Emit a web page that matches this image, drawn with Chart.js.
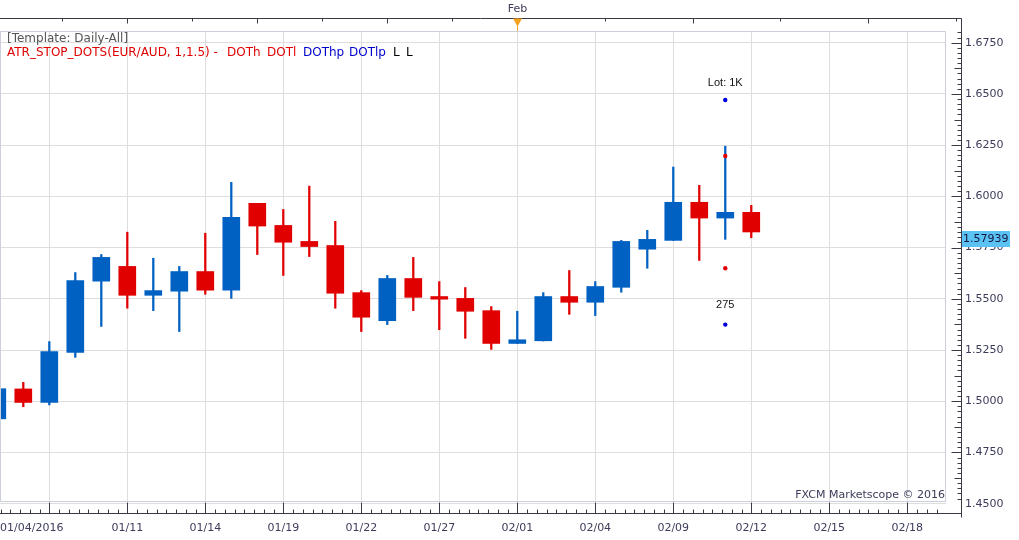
<!DOCTYPE html>
<html>
<head>
<meta charset="utf-8">
<script src="https://cdn.jsdelivr.net/npm/chart.js@4.4.1/dist/chart.umd.min.js"></script>
<style>
  html, body { margin: 0; padding: 0; background: #fff; }
  #wrap { width: 1019px; height: 540px; position: relative; }
</style>
</head>
<body>
<div id="wrap"><canvas id="priceChart"></canvas></div>
<script>
// ============================================
// EUR/AUD daily candles - Marketscope style
// ============================================

// candle slots (bar index on the x axis)
const barIndex = [0, 1, 2, 3, 4, 5, 6, 7, 8, 9, 10, 11, 12, 13, 14,
                  15, 16, 17, 18, 19, 20, 21, 22, 23, 24, 25, 26, 27, 28, 29];

const opens  = [1.4914, 1.5060, 1.4994, 1.5238, 1.5586, 1.5658, 1.5517, 1.5537, 1.5633, 1.5542,
                1.5966, 1.5858, 1.5780, 1.5760, 1.5530, 1.5393, 1.5599, 1.5511, 1.5502, 1.5442,
                1.5282, 1.5295, 1.5511, 1.5483, 1.5556, 1.5742, 1.5785, 1.5971, 1.5894, 1.5922];
const highs  = [1.5070, 1.5092, 1.5291, 1.5628, 1.5716, 1.5825, 1.5698, 1.5658, 1.5820, 1.6068,
                1.5966, 1.5936, 1.6050, 1.5878, 1.5540, 1.5614, 1.5702, 1.5584, 1.5555, 1.5462,
                1.5439, 1.5530, 1.5638, 1.5584, 1.5785, 1.5834, 1.6143, 1.6054, 1.6245, 1.5956];
const lows   = [1.4905, 1.4973, 1.4982, 1.5214, 1.5365, 1.5454, 1.5442, 1.5340, 1.5522, 1.5502,
                1.5716, 1.5614, 1.5706, 1.5454, 1.5340, 1.5374, 1.5442, 1.5349, 1.5307, 1.5253,
                1.5282, 1.5294, 1.5424, 1.5418, 1.5532, 1.5649, 1.5785, 1.5687, 1.5790, 1.5798];
const closes = [1.5061, 1.4994, 1.5242, 1.5589, 1.5702, 1.5517, 1.5540, 1.5633, 1.5542, 1.5897,
                1.5855, 1.5776, 1.5755, 1.5527, 1.5410, 1.5599, 1.5507, 1.5498, 1.5439, 1.5282,
                1.5300, 1.5511, 1.5483, 1.5560, 1.5780, 1.5790, 1.5971, 1.5894, 1.5922, 1.5826];

// ATR stop dots (all on the 02/11 candle)
const dotBar = 28;
const dotHigh = [1.6197];      // DOTh  (red)
const dotLow = [1.5649];       // DOTl  (red)
const dotHighP = [1.6470];     // DOThp (blue)
const dotLowP = [1.5374];      // DOTlp (blue)
const lotLabel = 'Lot: 1K';
const countLabel = '275';

// axes
const xTickAt = [2, 5, 8, 11, 14, 17, 20, 23, 26, 29, 32, 35];
const xTickLabels = ['01/04/2016', '01/11', '01/14', '01/19', '01/22', '01/27',
                     '02/01', '02/04', '02/09', '02/12', '02/15', '02/18'];
const topTickAt = [2.5, 5, 7.5, 10, 12.5, 15, 17.5, 20, 23.37, 26.75, 30.12, 33.5, 36.86];
const monthLabel = 'Feb';
const monthAt = 20;
const yTicks = [1.45, 1.475, 1.5, 1.525, 1.55, 1.575, 1.6, 1.625, 1.65, 1.675];
const lastPrice = 1.57939;

const UP = '#0061c2';
const DOWN = '#e00000';
const AXIS_TEXT = '#3c3c5a';
const GRID = '#dedede';

Chart.defaults.font.family = "'DejaVu Sans', Verdana, sans-serif";
Chart.defaults.font.size = 11;

const candleColors = barIndex.map((_, i) => closes[i] >= opens[i] ? UP : DOWN);
const wickData = barIndex.map((b, i) => ({ x: b, y: [lows[i], highs[i]] }));
const bodyData = barIndex.map((b, i) => ({ x: b, y: [opens[i], closes[i]] }));

// frame, axis lines, small ticks and the texts around the plot
const marketscopeFrame = {
    id: 'marketscopeFrame',
    beforeDraw(chart) {
        const ctx = chart.ctx;
        ctx.save();
        ctx.fillStyle = '#fff';
        ctx.fillRect(0, 0, chart.width, chart.height);
        ctx.restore();
    },
    afterDraw(chart) {
        const { ctx, chartArea: a, scales: { x, y } } = chart;
        const axR = Math.round(a.right) + 15.5;
        const axB = Math.round(a.bottom) + 12.5;
        const axT = 18.5;

        ctx.save();
        ctx.lineWidth = 1;

        // plot border
        ctx.strokeStyle = '#cbd0dc';
        ctx.strokeRect(a.left + 0.5, Math.round(a.top) + 0.5, a.right - a.left - 1, a.bottom - a.top);

        // axis lines
        ctx.strokeStyle = '#3a3a44';
        ctx.beginPath();
        ctx.moveTo(0, axT); ctx.lineTo(axR, axT);
        ctx.moveTo(0, axB); ctx.lineTo(axR, axB);
        ctx.moveTo(axR, axT); ctx.lineTo(axR, axB + 4);
        ctx.stroke();

        // bottom ticks
        const step = 3 / 8;
        const first = xTickAt[0] + Math.ceil((x.min - xTickAt[0]) / step) * step;
        ctx.beginPath();
        for (let v = first; v <= x.max; v += step) {
            const k = Math.round((v - xTickAt[0]) / step);
            const px = Math.round(x.getPixelForValue(v)) + 0.5;
            const len = (k % 8 === 0) ? 11 : 4;
            ctx.moveTo(px, axB); ctx.lineTo(px, axB - len);
        }
        // right ticks
        const yStep = 0.0025;
        for (let k = Math.ceil(y.min / yStep); k * yStep <= y.max + 1e-9; k++) {
            const py = Math.round(y.getPixelForValue(k * yStep)) + 0.5;
            const len = (k % 10 === 0) ? 10 : (k % 5 === 0 ? 7 : 4);
            ctx.moveTo(axR, py); ctx.lineTo(axR - len, py);
        }
        // top ticks
        topTickAt.forEach((v, i) => {
            const px = Math.round(x.getPixelForValue(v)) + 0.5;
            ctx.moveTo(px, axT); ctx.lineTo(px, axT + (i % 2 === 0 ? 3 : 5));
        });
        ctx.stroke();

        // month marker
        const mx = Math.round(x.getPixelForValue(monthAt)) + 0.5;
        ctx.fillStyle = AXIS_TEXT;
        ctx.font = "11px 'DejaVu Sans'";
        ctx.textAlign = 'center';
        ctx.textBaseline = 'middle';
        ctx.fillText(monthLabel, mx, 9);
        ctx.fillStyle = '#f4a21c';
        ctx.strokeStyle = '#f4a21c';
        ctx.beginPath();
        ctx.moveTo(mx - 4.5, axT); ctx.lineTo(mx + 4.5, axT); ctx.lineTo(mx, axT + 8);
        ctx.closePath(); ctx.fill();
        ctx.beginPath();
        ctx.moveTo(mx, axT); ctx.lineTo(mx, a.top);
        ctx.stroke();

        // first date label sits flush left
        ctx.fillStyle = AXIS_TEXT;
        ctx.textAlign = 'left';
        ctx.fillText(xTickLabels[0], a.left, axB + 14.5);

        // current price box
        const yp = Math.round(y.getPixelForValue(lastPrice));
        ctx.fillStyle = '#5ac3f3';
        ctx.fillRect(axR + 0.5, yp - 8, 48, 16);
        ctx.fillStyle = '#14143c';
        ctx.fillText(lastPrice.toFixed(5), axR + 1.5, yp + 0.5);

        // template / indicator legend
        ctx.font = "12px 'DejaVu Sans'";
        ctx.fillStyle = '#555555';
        ctx.fillText('[Template: Daily-All]', 7, 38.5);
        const legendParts = [
            ['ATR_STOP_DOTS(EUR/AUD, 1,1.5) -', DOWN, 7],
            ['DOTh', DOWN, 227],
            ['DOTl', DOWN, 267],
            ['DOThp', '#0000cc', 303],
            ['DOTlp', '#0000cc', 349],
            ['L', '#000000', 393],
            ['L', '#000000', 406]
        ];
        legendParts.forEach(([t, c, lx]) => {
            ctx.fillStyle = c;
            ctx.fillText(t, lx, 52.5);
        });

        // copyright
        ctx.font = "11px 'DejaVu Sans'";
        ctx.fillStyle = AXIS_TEXT;
        ctx.textAlign = 'right';
        ctx.fillText('FXCM Marketscope \u00A9 2016', a.right - 1, a.bottom - 6);

        // dot annotations
        const top = chart.getDatasetMeta(4).data[0];
        const bottom = chart.getDatasetMeta(5).data[0];
        ctx.fillStyle = '#111111';
        ctx.font = "11px 'Liberation Sans', Arial, sans-serif";
        ctx.textAlign = 'center';
        ctx.fillText(lotLabel, top.x, top.y - 17);
        ctx.fillText(countLabel, bottom.x, bottom.y - 20);

        ctx.restore();
    }
};

const dotSet = (values, color) => ({
    type: 'scatter',
    data: values.map(v => ({ x: dotBar, y: v })),
    backgroundColor: color,
    borderWidth: 0,
    pointRadius: 2.2,
    pointHoverRadius: 2.2,
    order: -1
});

new Chart(document.getElementById('priceChart'), {
    type: 'bar',
    data: {
        datasets: [
            {
                label: 'body',
                data: bodyData,
                backgroundColor: candleColors,
                borderWidth: 0,
                barThickness: 17,
                grouped: false,
                order: 0
            },
            {
                label: 'wick',
                data: wickData,
                backgroundColor: candleColors,
                borderWidth: 0,
                barThickness: 1.6,
                grouped: false,
                order: 1
            },
            dotSet(dotHigh, DOWN),
            dotSet(dotLow, DOWN),
            dotSet(dotHighP, '#0000e0'),
            dotSet(dotLowP, '#0000e0')
        ]
    },
    options: {
        responsive: true,
        maintainAspectRatio: false,
        animation: false,
        events: [],
        layout: { autoPadding: false, padding: { top: 31, left: 0, right: 0, bottom: 0 } },
        plugins: {
            legend: { display: false },
            tooltip: { enabled: false }
        },
        scales: {
            x: {
                type: 'linear',
                min: 0.104,
                max: 36.49,
                offset: false,
                afterBuildTicks: s => { s.ticks = xTickAt.map(v => ({ value: v })); },
                afterFit: s => { s.height = 39; s.paddingLeft = 0; s.paddingRight = 0; },
                grid: { color: GRID, drawTicks: false, offset: false },
                border: { display: false },
                ticks: {
                    padding: 21,
                    color: AXIS_TEXT,
                    maxRotation: 0,
                    autoSkip: false,
                    callback: (v, i) => (i === 0 ? '' : xTickLabels[i])
                }
            },
            y: {
                position: 'right',
                min: 1.4513,
                max: 1.6807,
                afterBuildTicks: s => { s.ticks = yTicks.map(v => ({ value: v })); },
                afterFit: s => { s.width = 73; s.paddingTop = 0; s.paddingBottom = 0; },
                grid: { color: GRID, drawTicks: false },
                border: { display: false },
                ticks: {
                    padding: 19,
                    color: AXIS_TEXT,
                    callback: v => v.toFixed(4)
                }
            }
        }
    },
    plugins: [marketscopeFrame]
});
</script>
</body>
</html>
